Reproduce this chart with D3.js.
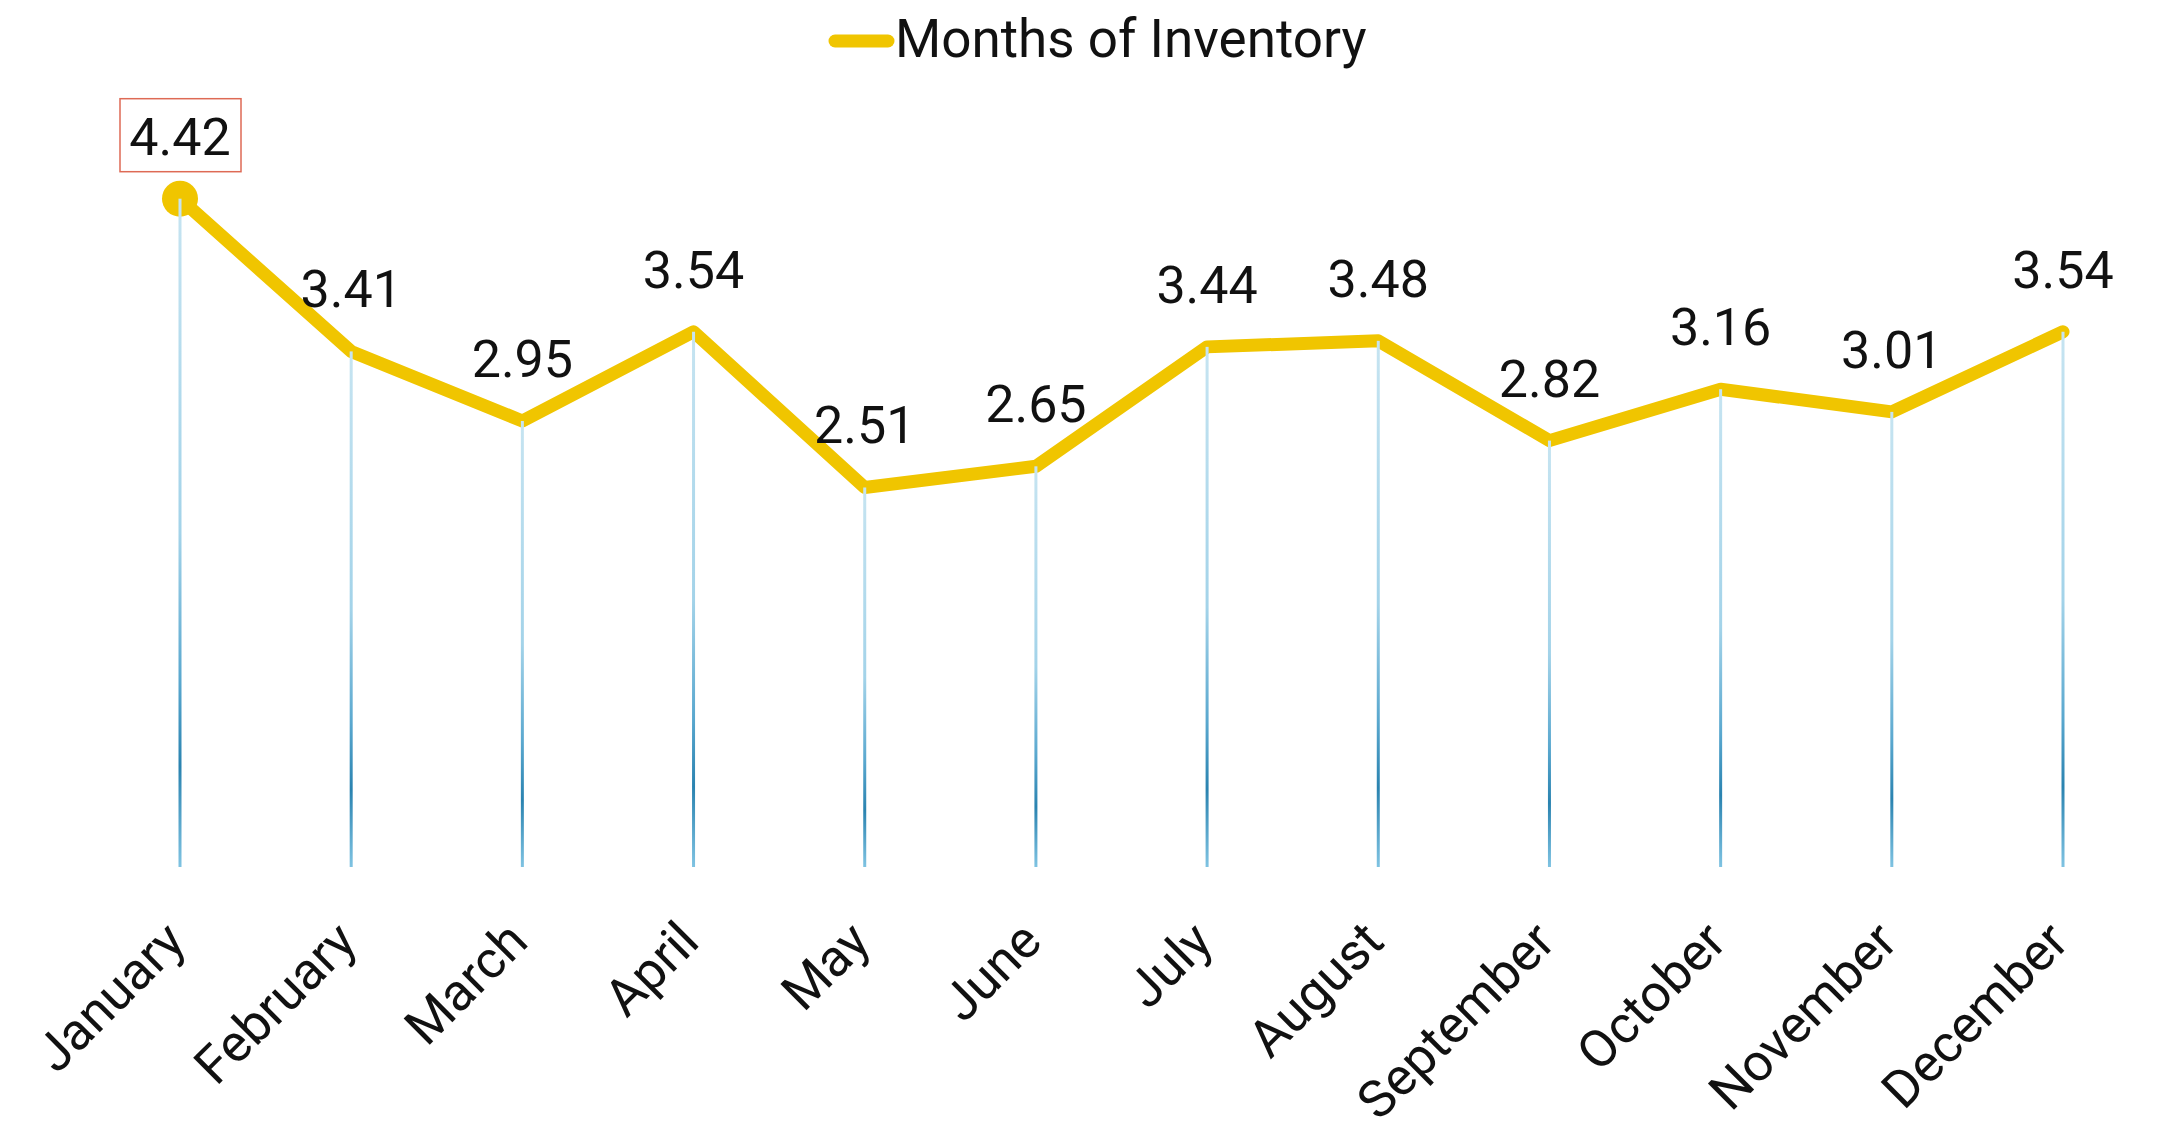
<!DOCTYPE html>
<html>
<head>
<meta charset="utf-8">
<script src="https://cdn.jsdelivr.net/npm/d3@7"></script>
<style>
    body { margin: 0; background: #fff; }
    text { font-family: Roboto, "Noto Sans", sans-serif; }
</style>
</head>
<body>
<div id="chart"></div>
<script>
// data
const months = ["January", "February", "March", "April", "May", "June",
    "July", "August", "September", "October", "November", "December"];
const inventory = [4.42, 3.41, 2.95, 3.54, 2.51, 2.65, 3.44, 3.48, 2.82, 3.16, 3.01, 3.54];
const seriesName = "Months of Inventory";

const width = 2169, height = 1123;
const lineColor = "#f0c500";

const svg = d3.select("#chart").append("svg")
    .attr("width", width)
    .attr("height", height);

const data = months.map((m, i) => ({month: m, value: inventory[i]}));

let x = d3.scalePoint()
    .domain(months)
    .range([180, 2063]);

let y = d3.scaleLinear()
    .domain([0, 5])
    .range([867, 111]);

// gradient for the drop lines
const defs = svg.append("defs");
const grad = defs.append("linearGradient")
    .attr("id", "dropGrad")
    .attr("x1", 0).attr("y1", 0).attr("x2", 0).attr("y2", 1);
grad.append("stop").attr("offset", "0%").attr("stop-color", "#c6e4f1");
grad.append("stop").attr("offset", "50%").attr("stop-color", "#a3d3e9");
grad.append("stop").attr("offset", "72%").attr("stop-color", "#5aa8cf");
grad.append("stop").attr("offset", "85%").attr("stop-color", "#2a83b0");
grad.append("stop").attr("offset", "100%").attr("stop-color", "#7fc3e2");

// line
const line = d3.line()
    .x(d => x(d.month))
    .y(d => y(d.value));

svg.append("path")
    .datum(data)
    .attr("fill", "none")
    .attr("stroke", lineColor)
    .attr("stroke-width", 13)
    .attr("stroke-linejoin", "round")
    .attr("stroke-linecap", "round")
    .attr("d", line);

// highlight max
const maxVal = d3.max(inventory);
const maxD = data.find(d => d.value === maxVal);

svg.append("circle")
    .attr("cx", x(maxD.month))
    .attr("cy", y(maxD.value))
    .attr("r", 18)
    .attr("fill", lineColor);

// drop lines (drawn above the line)
svg.append("g")
    .selectAll("rect")
    .data(data)
    .join("rect")
    .attr("x", d => x(d.month) - 1.5)
    .attr("y", d => y(d.value))
    .attr("width", 3)
    .attr("height", d => y(0) - y(d.value))
    .attr("fill", "url(#dropGrad)");

// value labels
const labels = svg.append("g")
    .attr("font-size", 52)
    .attr("fill", "#111")
    .attr("text-anchor", "middle");

labels.selectAll("text")
    .data(data)
    .join("text")
    .attr("x", d => x(d.month))
    .attr("y", d => y(d.value) - 44)
    .text(d => d.value.toFixed(2));

// box around max label
const bx = x(maxD.month), by = y(maxD.value) - 44;
svg.append("rect")
    .attr("x", bx - 60)
    .attr("y", by - 56)
    .attr("width", 121)
    .attr("height", 73)
    .attr("fill", "none")
    .attr("stroke", "#de6a55")
    .attr("stroke-width", 1.5);

// x axis labels
svg.append("g")
    .selectAll("text")
    .data(months)
    .join("text")
    .attr("transform", d => `translate(${x(d) + 8},944) rotate(-45)`)
    .attr("text-anchor", "end")
    .attr("font-size", 52)
    .attr("fill", "#111")
    .text(d => d);

// legend
const legend = svg.append("g");
legend.append("line")
    .attr("x1", 835).attr("x2", 888)
    .attr("y1", 41).attr("y2", 41)
    .attr("stroke", lineColor)
    .attr("stroke-width", 13)
    .attr("stroke-linecap", "round");
legend.append("text")
    .attr("x", 895)
    .attr("y", 57)
    .attr("font-size", 53)
    .attr("fill", "#111")
    .text(seriesName);
</script>
</body>
</html>
